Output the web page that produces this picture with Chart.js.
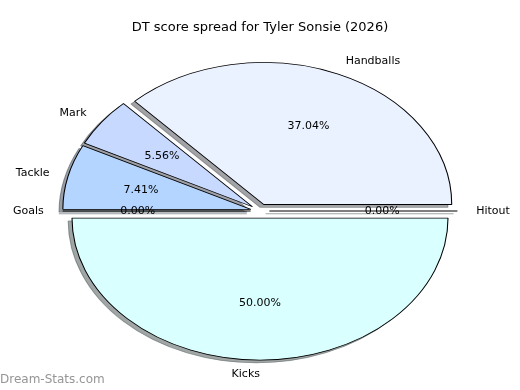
<!DOCTYPE html>
<html>
<head>
<meta charset="utf-8">
<script src="https://cdn.jsdelivr.net/npm/chart.js@4/dist/chart.umd.min.js"></script>
<style>
  html, body { margin: 0; padding: 0; background: #fff; }
  #wrap { width: 520px; height: 390px; }
</style>
</head>
<body>
<div id="wrap"><canvas id="myChart" width="520" height="390"></canvas></div>
<script>
// slices listed clockwise from 3 o'clock (matplotlib drew them counter-clockwise)
const categories = ['Hitout', 'Kicks', 'Goals', 'Tackle', 'Mark', 'Handballs'];
const scores = [0, 27, 0, 4, 3, 20];
const sliceColors = ['#d9ffff', '#d9ffff', '#b4d5ff', '#b4d5ff', '#c7d9ff', '#eaf1ff'];
const titleText = 'DT score spread for Tyler Sonsie (2026)';
const watermark = 'Dream-Stats.com';

const explode = 0.05;     // fraction of radius each slice is pulled out
const pieRadius = 142;    // vertical radius in px
const stretchX = 1.324;   // pie is drawn as an ellipse
const shadowDx = -3.8, shadowDy = 2.8;
const total = scores.reduce((a, b) => a + b, 0);
const FONT = '"DejaVu Sans", sans-serif';

function shadowOf(hex) {
    const n = parseInt(hex.slice(1), 16);
    const r = Math.round(((n >> 16) & 255) * 0.3);
    const g = Math.round(((n >> 8) & 255) * 0.3);
    const b = Math.round((n & 255) * 0.3);
    return `rgba(${r}, ${g}, ${b}, 0.5)`;
}

// move the context so that one slice is drawn stretched and pulled out
function placeSlice(ctx, arc, dx, dy) {
    const a = (arc.startAngle + arc.endAngle) / 2;
    const d = explode * pieRadius;
    ctx.translate(dx, dy);
    ctx.translate(arc.x, arc.y);
    ctx.scale(stretchX, 1);
    ctx.translate(-arc.x + Math.cos(a) * d, -arc.y + Math.sin(a) * d);
}

// an empty slice is only its edge line
function drawEmpty(ctx, arc, color) {
    const a = arc.startAngle;
    ctx.beginPath();
    ctx.moveTo(arc.x, arc.y);
    ctx.lineTo(arc.x + Math.cos(a) * arc.outerRadius, arc.y + Math.sin(a) * arc.outerRadius);
    ctx.lineWidth = 1;
    ctx.strokeStyle = color;
    ctx.stroke();
}

const piePlugin = {
    id: 'explodedPie',
    beforeDatasetsDraw(chart) {
        const ctx = chart.ctx;
        const arcs = chart.getDatasetMeta(0).data;
        // shadows first
        arcs.forEach((arc, i) => {
            const sc = shadowOf(sliceColors[i]);
            ctx.save();
            placeSlice(ctx, arc, shadowDx, shadowDy);
            if (scores[i] === 0) {
                drawEmpty(ctx, arc, sc);
            } else {
                const ghost = Object.create(arc, {
                    options: { value: Object.assign({}, arc.options, { backgroundColor: sc, borderColor: sc }) }
                });
                arc.draw.call(ghost, ctx);
            }
            ctx.restore();
        });
        arcs.forEach((arc, i) => {
            ctx.save();
            placeSlice(ctx, arc, 0, 0);
            if (scores[i] === 0) drawEmpty(ctx, arc, '#000');
            else arc.draw(ctx);
            ctx.restore();
        });
        return false;
    },
    afterDraw(chart) {
        const ctx = chart.ctx;
        ctx.save();
        ctx.font = '11px ' + FONT;
        ctx.fillStyle = '#000';
        ctx.textBaseline = 'middle';
        chart.getDatasetMeta(0).data.forEach((arc, i) => {
            const t = (arc.startAngle + arc.endAngle) / 2;
            const dx = Math.cos(t) * stretchX;
            const dy = Math.sin(t);
            const r1 = (1.1 + explode) * pieRadius;
            const r2 = (0.6 + explode) * pieRadius;
            ctx.textAlign = Math.cos(Math.PI * 2 - t) > 0 ? 'left' : 'right';
            ctx.fillText(categories[i], arc.x + dx * r1, arc.y + dy * r1);
            ctx.textAlign = 'center';
            const pct = (scores[i] / total * 100).toFixed(2) + '%';
            ctx.fillText(pct, arc.x + dx * r2, arc.y + dy * r2);
        });
        ctx.font = '12px ' + FONT;
        ctx.fillStyle = 'rgba(130, 130, 130, 0.85)';
        ctx.textAlign = 'left';
        ctx.fillText(watermark, 0, 380);
        ctx.restore();
    }
};

const myChart = new Chart(document.getElementById('myChart').getContext('2d'), {
    type: 'pie',
    data: {
        labels: categories,
        datasets: [{
            data: scores,
            backgroundColor: sliceColors,
            borderColor: '#000',
            borderWidth: 0.8,
            offset: 0,
            hoverOffset: 0,
            clip: false
        }]
    },
    options: {
        responsive: false,
        animation: false,
        rotation: 90,
        radius: pieRadius,
        layout: { padding: { bottom: 3.6 } },
        plugins: {
            legend: { display: false },
            tooltip: { enabled: false },
            title: {
                display: true,
                text: titleText,
                color: '#000',
                font: { family: FONT, size: 13, weight: 'normal' },
                padding: { top: 20, bottom: 0 }
            }
        }
    },
    plugins: [piePlugin]
});
</script>
</body>
</html>
